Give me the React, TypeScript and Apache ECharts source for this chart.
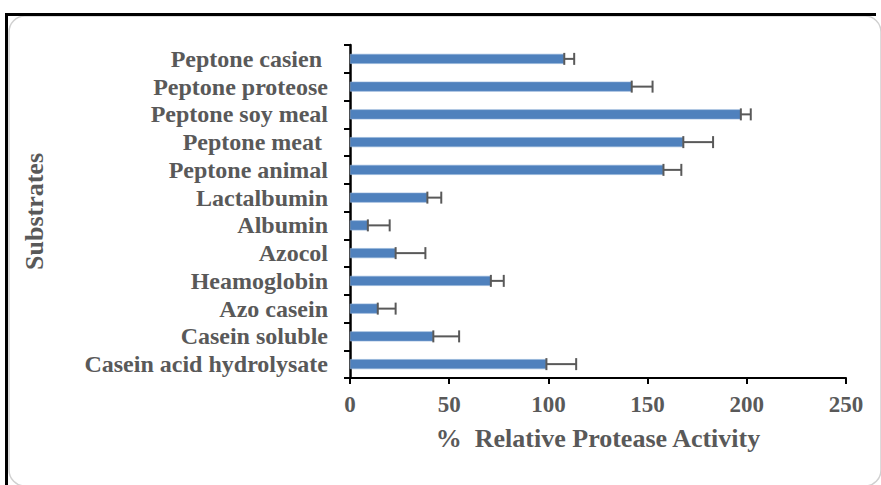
import React, { useEffect, useRef } from "react";
import * as echarts from "echarts";

// Substrates, listed from top to bottom as they appear on the axis
const categories = [
  "Peptone casien ",
  "Peptone proteose",
  "Peptone soy meal",
  "Peptone meat ",
  "Peptone animal",
  "Lactalbumin",
  "Albumin",
  "Azocol",
  "Heamoglobin",
  "Azo casein",
  "Casein soluble",
  "Casein acid hydrolysate",
];

// % relative protease activity for each substrate
const activity = [108, 142, 197, 168, 158, 39, 9, 23, 71, 14, 42, 99];

// Positive error (standard deviation) for each substrate
const errors = [5, 10.5, 5, 15, 9, 7, 11, 15, 6.5, 9, 13, 15];

const xTicks = [0, 50, 100, 150, 200, 250];

const FONT = '"Liberation Serif", "Times New Roman", serif';
const TEXT_COLOR = "#595959";

export default function App() {
  const ref = useRef<HTMLDivElement>(null);

  useEffect(() => {
    if (!ref.current) return;
    const chart = echarts.init(ref.current, null, { renderer: "svg" });

    const errorData = activity.map((v, i) => [v, i, errors[i]]);

    chart.setOption({
      animation: false,
      backgroundColor: "#ffffff",
      grid: { left: 350, right: 35, top: 45, bottom: 107, containLabel: false },
      xAxis: {
        type: "value",
        min: xTicks[0],
        max: xTicks[xTicks.length - 1],
        interval: 50,
        name: "%  Relative Protease Activity",
        nameLocation: "middle",
        nameGap: 47,
        nameTextStyle: { fontFamily: FONT, fontWeight: "bold", fontSize: 26, color: TEXT_COLOR },
        axisLine: { show: true, lineStyle: { color: "#000000", width: 2 } },
        axisTick: { show: true, length: 6, lineStyle: { color: "#000000", width: 2 } },
        axisLabel: { fontFamily: FONT, fontWeight: "bold", fontSize: 23, color: TEXT_COLOR, margin: 15 },
        splitLine: { show: false },
      },
      yAxis: {
        type: "category",
        data: categories,
        inverse: true,
        name: "Substrates",
        nameLocation: "middle",
        nameGap: 303,
        nameTextStyle: { fontFamily: FONT, fontWeight: "bold", fontSize: 26, color: TEXT_COLOR },
        axisLine: { show: true, lineStyle: { color: "#000000", width: 2.5 } },
        axisTick: { show: true, length: 6, alignWithLabel: false, lineStyle: { color: "#000000", width: 2 } },
        axisLabel: {
          fontFamily: FONT,
          fontWeight: "bold",
          fontSize: 24,
          color: TEXT_COLOR,
          margin: 22,
          interval: 0,
        },
        splitLine: { show: false },
      },
      series: [
        {
          type: "bar",
          data: activity,
          barWidth: 10,
          itemStyle: { color: "#4f81bd", borderColor: "#8fb0d8", borderWidth: 0.6 },
          z: 2,
        },
        {
          type: "custom",
          data: errorData,
          encode: { x: 0, y: 1 },
          z: 3,
          renderItem: (params: any, api: any) => {
            const v = api.value(0);
            const idx = api.value(1);
            const e = api.value(2);
            const start = api.coord([v, idx]);
            const end = api.coord([v + e, idx]);
            const half = 6;
            const style = { stroke: "#595959", lineWidth: 2, fill: "none" };
            return {
              type: "group",
              children: [
                { type: "line", shape: { x1: start[0], y1: start[1], x2: end[0], y2: end[1] }, style },
                { type: "line", shape: { x1: start[0], y1: start[1] - half, x2: start[0], y2: start[1] + half }, style },
                { type: "line", shape: { x1: end[0], y1: end[1] - half, x2: end[0], y2: end[1] + half }, style },
              ],
            };
          },
        },
      ],
      graphic: [
        {
          type: "rect",
          shape: { x: 9, y: 16, width: 872, height: 470, r: 16 },
          style: { fill: "none", stroke: "#d0d0d0", lineWidth: 1.5 },
          silent: true,
          z: -1,
        },
        {
          type: "line",
          shape: { x1: 5, y1: 14.5, x2: 876, y2: 14.5 },
          style: { stroke: "#000000", lineWidth: 3 },
          silent: true,
        },
        {
          type: "line",
          shape: { x1: 6.5, y1: 13, x2: 6.5, y2: 485 },
          style: { stroke: "#000000", lineWidth: 3 },
          silent: true,
        },
      ],
    });

    return () => chart.dispose();
  }, []);

  return (
    <div
      ref={ref}
      style={{ position: "fixed", left: 0, top: 0, width: 881, height: 485, background: "#ffffff" }}
    />
  );
}
